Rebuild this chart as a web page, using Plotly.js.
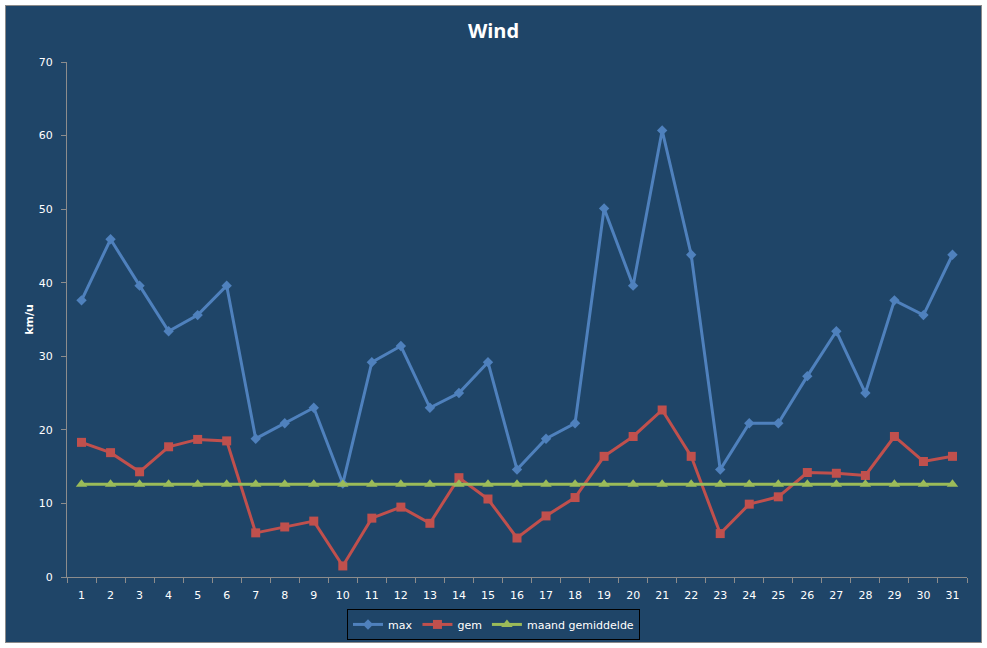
<!DOCTYPE html>
<html>
<head>
<meta charset="utf-8">
<script src="https://cdn.plot.ly/plotly-3.0.1.min.js"></script>
<style>
  body { margin: 0; background: #ffffff; }
  #chart {
    position: absolute; left: 5px; top: 5px;
    width: 975px; height: 636px;
    border: 1px solid #8a8a8a;
  }
</style>
</head>
<body>
<div id="chart"></div>
<script>
// days of the month
const days = ["1","2","3","4","5","6","7","8","9","10","11","12","13","14","15","16",
              "17","18","19","20","21","22","23","24","25","26","27","28","29","30","31"];

// max wind per day (km/u)
const maxWind = [37.6, 45.9, 39.6, 33.4, 35.6, 39.6, 18.8, 20.9, 23.0, 12.7, 29.2, 31.4, 23.0, 25.0, 29.2, 14.6,
                 18.8, 20.9, 50.1, 39.6, 60.7, 43.8, 14.6, 20.9, 20.9, 27.3, 33.4, 25.0, 37.6, 35.6, 43.8];

// average wind per day (km/u)
const gemWind = [18.3, 16.9, 14.3, 17.7, 18.7, 18.5, 6.0, 6.8, 7.6, 1.5, 8.0, 9.5, 7.3, 13.5, 10.6, 5.3,
                 8.3, 10.8, 16.4, 19.1, 22.7, 16.4, 5.9, 9.9, 10.9, 14.2, 14.1, 13.8, 19.1, 15.7, 16.4];

// month average, same value every day
const maandGem = [12.6, 12.6, 12.6, 12.6, 12.6, 12.6, 12.6, 12.6, 12.6, 12.6, 12.6, 12.6, 12.6, 12.6, 12.6, 12.6,
                  12.6, 12.6, 12.6, 12.6, 12.6, 12.6, 12.6, 12.6, 12.6, 12.6, 12.6, 12.6, 12.6, 12.6, 12.6];

const yTicks = [0, 10, 20, 30, 40, 50, 60, 70];

const bg = "#1f4568";
const axisCol = "#8c8c8c";

let traces = [
    {
        x: days, y: maxWind, name: "max", type: "scatter", mode: "lines+markers",
        line: { color: "#4f81bd", width: 3 },
        marker: { symbol: "diamond", size: 8, color: "#4f81bd" }
    },
    {
        x: days, y: gemWind, name: "gem", type: "scatter", mode: "lines+markers",
        line: { color: "#c0504d", width: 3 },
        marker: { symbol: "square", size: 9, color: "#c0504d" }
    },
    {
        x: days, y: maandGem, name: "maand gemiddelde", type: "scatter", mode: "lines+markers",
        line: { color: "#9bbb59", width: 3 },
        marker: { symbol: "triangle-up", size: 10, color: "#9bbb59" }
    }
];

let layout = {
    width: 975,
    height: 636,
    paper_bgcolor: bg,
    plot_bgcolor: bg,
    margin: { l: 61, r: 14, t: 56, b: 65 },
    font: { family: "DejaVu Sans, Verdana, sans-serif", size: 11, color: "#ffffff" },
    title: {
        text: "<b>Wind</b>",
        x: 0.5, xanchor: "center",
        y: 0.96, yanchor: "middle",
        font: { family: "Open Sans, DejaVu Sans, sans-serif", size: 20, color: "#ffffff" }
    },
    showlegend: true,
    legend: {
        orientation: "h",
        xref: "container", yref: "container",
        x: 0.5, xanchor: "center",
        y: 0.052, yanchor: "top",
        bordercolor: "#000000", borderwidth: 1,
        bgcolor: bg,
        font: { size: 11, color: "#ffffff" },
        itemwidth: 30
    },
    xaxis: {
        type: "category",
        range: [-0.5, 30.5],
        tickson: "boundaries",
        ticks: "outside", ticklen: 5, tickcolor: axisCol,
        showline: true, linecolor: axisCol, linewidth: 1,
        showgrid: false, zeroline: false,
        ticklabelstandoff: 8,
        tickfont: { size: 11, color: "#ffffff" }
    },
    yaxis: {
        range: [0, 70],
        tickvals: yTicks,
        ticks: "outside", ticklen: 5, tickcolor: axisCol,
        showline: true, linecolor: axisCol, linewidth: 1,
        showgrid: false, zeroline: false,
        ticklabelstandoff: 6,
        tickfont: { size: 11, color: "#ffffff" },
        title: { text: "<b>km/u</b>", font: { size: 11, color: "#ffffff" }, standoff: 2 }
    }
};

Plotly.newPlot("chart", traces, layout, { displayModeBar: false });
</script>
</body>
</html>
